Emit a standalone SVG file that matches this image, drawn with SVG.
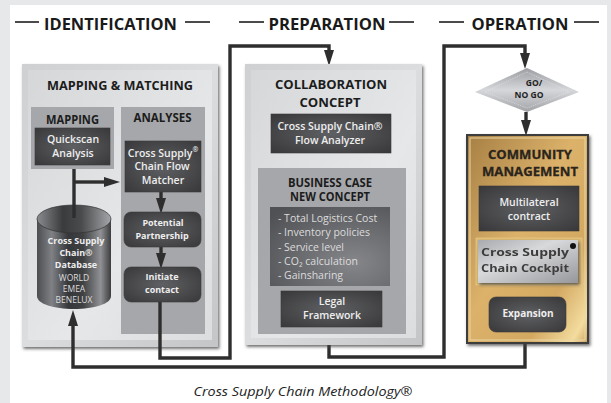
<svg xmlns="http://www.w3.org/2000/svg" width="611" height="403" viewBox="0 0 611 403">
<style>
text{font-family:"Open Sans","Noto Sans","Liberation Sans",sans-serif;text-anchor:middle}
.ph{font-size:15.500px;font-weight:700;fill:#1a1a1a}
.h{font-size:13px;font-weight:700;fill:#1c1c1c}
.sh{font-size:11.500px;font-weight:700;fill:#1c1c1c}
.w{font-size:10.500px;font-weight:600;fill:#eee}
.s{font-size:9px;font-weight:700;fill:#eee}
.l{font-size:10.500px;fill:#dcdcdc;text-anchor:start}
.rule{stroke:#111;stroke-width:1.7;fill:none}
.c{stroke:#2e2e2e;stroke-width:3.400;fill:none}
.panel{fill:url(#pg);filter:url(#sd)}
.mid{fill:#a6a7aa}
.dk{fill:url(#dg);stroke:#3a3a3a;stroke-width:.6}
</style>
<defs>
<linearGradient id="pg" x1="0" y1="0" x2="1" y2="1"><stop offset="0" stop-color="#cfd0d2"/><stop offset=".5" stop-color="#dcdddf"/><stop offset="1" stop-color="#c4c5c7"/></linearGradient>
<linearGradient id="pi" x1="0" y1="0" x2="1" y2="1"><stop offset="0" stop-color="#d6d7d9"/><stop offset=".6" stop-color="#e6e7e9"/><stop offset="1" stop-color="#dcdddf"/></linearGradient>
<radialGradient id="dg" cx=".5" cy=".5" r=".7"><stop offset="0" stop-color="#5f6063"/><stop offset="1" stop-color="#38383a"/></radialGradient>
<radialGradient id="lg" cx=".7" cy=".7" r=".9"><stop offset="0" stop-color="#85868a"/><stop offset="1" stop-color="#505154"/></radialGradient>
<linearGradient id="cy" x1="0" x2="1" y1="0" y2="0"><stop offset="0" stop-color="#4c4d50"/><stop offset=".2" stop-color="#808185"/><stop offset=".42" stop-color="#36373a"/><stop offset=".62" stop-color="#3f4042"/><stop offset=".86" stop-color="#909194"/><stop offset="1" stop-color="#3c3c3e"/></linearGradient>
<linearGradient id="cyt" x1="0" x2="1" y1="0" y2="0"><stop offset="0" stop-color="#8a8b8e"/><stop offset=".35" stop-color="#3a3b3d"/><stop offset=".6" stop-color="#4a4b4d"/><stop offset="1" stop-color="#a5a6a9"/></linearGradient>
<linearGradient id="dm" x1="0" x2="0" y1="0" y2="1"><stop offset="0" stop-color="#9c9da1"/><stop offset=".5" stop-color="#d6d7da"/><stop offset="1" stop-color="#a2a3a7"/></linearGradient>
<linearGradient id="gold" x1="0" y1="0" x2="1" y2="1"><stop offset="0" stop-color="#a67f44"/><stop offset=".45" stop-color="#dcb26a"/><stop offset=".75" stop-color="#d3a962"/><stop offset=".93" stop-color="#f3dc9e"/><stop offset="1" stop-color="#c9a05c"/></linearGradient>
<linearGradient id="steel" x1="0" y1="0" x2="1" y2="1"><stop offset="0" stop-color="#a9aaad"/><stop offset=".4" stop-color="#d8d9db"/><stop offset="1" stop-color="#96979a"/></linearGradient>
<filter id="sd" x="-10%" y="-10%" width="125%" height="125%"><feDropShadow dx="1.500" dy="2" stdDeviation="1.500" flood-color="#444" flood-opacity=".75"/></filter>
<filter id="bl" x="-10%" y="-30%" width="120%" height="160%"><feGaussianBlur stdDeviation=".7"/></filter>
<marker id="a" markerUnits="userSpaceOnUse" markerWidth="16" markerHeight="12" refX="2" refY="6" orient="auto"><path d="M0 1 16 6 0 11Z" fill="#2e2e2e"/></marker>
</defs>
<rect width="611" height="403" fill="#e7e8e9"/>
<rect x="10" y="5" width="597" height="398" fill="#fff"/>

<g id="phase-identification">
<path class="rule" d="M15 22H39M185 22H210"/><text class="ph" x="110.500" y="30" textLength="133" lengthAdjust="spacingAndGlyphs">IDENTIFICATION</text>
</g>
<g id="phase-preparation">
<path class="rule" d="M239 22H264M389 22H414"/><text class="ph" x="327" y="30" textLength="117" lengthAdjust="spacingAndGlyphs">PREPARATION</text>
</g>
<g id="phase-operation">
<path class="rule" d="M439 22H464M574 22H599"/><text class="ph" x="520" y="30" textLength="97" lengthAdjust="spacingAndGlyphs">OPERATION</text>
</g>

<g id="mapping-matching">
<rect class="panel" x="22" y="64" width="196" height="283"/>
<rect x="28" y="70" width="184" height="270" fill="url(#pi)"/>
<text class="h" x="120" y="90" textLength="146" lengthAdjust="spacingAndGlyphs">MAPPING &amp; MATCHING</text>
</g>
<g id="mapping">
<rect class="mid" x="31" y="107" width="83" height="62"/>
<text class="sh" x="72.500" y="124" textLength="53" lengthAdjust="spacingAndGlyphs">MAPPING</text>
</g>
<g id="quickscan">
<rect class="dk" x="35" y="128" width="75" height="37"/>
<text class="w" x="73" y="143">Quickscan</text><text class="w" x="73" y="157">Analysis</text>
</g>
<g id="analyses">
<rect class="mid" x="121" y="107" width="84" height="227"/>
<text class="sh" x="162.500" y="122" textLength="58" lengthAdjust="spacingAndGlyphs">ANALYSES</text>
</g>

<g id="connectors">
<path class="c" d="M74 169V218"/>
<path class="c" d="M74 182H106" marker-end="url(#a)"/>
<path class="c" d="M161 192V200" marker-end="url(#a)"/>
<path class="c" d="M161 247V255" marker-end="url(#a)"/>
<path class="c" d="M160 302V358H230V46H329V52" marker-end="url(#a)"/>
<path class="c" d="M329 150V159" marker-end="url(#a)"/>
<path class="c" d="M329 345V357H444V46H525V55" marker-end="url(#a)"/>
<path class="c" d="M526 112V122" marker-end="url(#a)"/>
<path class="c" d="M525 343V367H73V324" marker-end="url(#a)"/>
</g>

<g id="flow-matcher">
<rect class="dk" x="125" y="141" width="76" height="51"/>
<text class="w" x="163" y="157">Cross Supply<tspan dy="-5" style="font-size:7px">®</tspan></text>
<text class="w" x="162" y="170">Chain Flow</text><text class="w" x="163" y="184">Matcher</text>
</g>
<g id="potential-partnership">
<rect class="dk" x="124" y="212" width="77" height="35" rx="7"/>
<text class="s" x="163" y="226">Potential</text><text class="s" x="162" y="239">Partnership</text>
</g>
<g id="initiate-contact">
<rect class="dk" x="124" y="267" width="77" height="35" rx="7"/>
<text class="s" x="162" y="280">Initiate</text><text class="s" x="162" y="293">contact</text>
</g>
<g id="database">
<path d="M37 219V296C37 304 54 309 74 309S111 304 111 296V219Z" fill="url(#cy)"/>
<ellipse cx="74" cy="219" rx="37" ry="14" fill="url(#cyt)" stroke="#333" stroke-width=".7"/>
<path class="c" d="M74 205V218"/>
<text class="s" x="76" y="244">Cross Supply</text>
<text class="s" x="76" y="256">Chain®</text>
<text class="s" x="76" y="268">Database</text>
<text x="74" y="281" style="font-size:8.500px;fill:#ddd">WORLD</text>
<text x="74" y="292" style="font-size:8.500px;fill:#ddd">EMEA</text>
<text x="74" y="303" style="font-size:8.500px;fill:#ddd">BENELUX</text>
</g>

<g id="collaboration-concept">
<rect class="panel" x="245" y="64" width="177" height="281"/>
<rect x="251" y="70" width="165" height="268" fill="url(#pi)"/>
<text x="331" y="89" textLength="112" lengthAdjust="spacingAndGlyphs" style="font-size:12.500px;font-weight:700;fill:#1c1c1c">COLLABORATION</text>
<text x="330" y="106.500" textLength="61" lengthAdjust="spacingAndGlyphs" style="font-size:12.500px;font-weight:700;fill:#1c1c1c">CONCEPT</text>
</g>
<g id="flow-analyzer">
<rect class="dk" x="271" y="114" width="120" height="39"/>
<text class="w" x="330" y="130">Cross Supply Chain®</text><text class="w" x="330" y="144">Flow Analyzer</text>
</g>
<g id="business-case">
<rect class="mid" x="258" y="168" width="148" height="166"/>
<text class="sh" x="330" y="187" textLength="84" lengthAdjust="spacingAndGlyphs">BUSINESS CASE</text>
<text class="sh" x="330" y="201" textLength="80" lengthAdjust="spacingAndGlyphs">NEW CONCEPT</text>
</g>
<g id="cost-list">
<rect x="270" y="207" width="120" height="79" fill="url(#lg)"/>
<text class="l" x="278" y="222">- Total Logistics Cost</text>
<text class="l" x="278" y="236">- Inventory policies</text>
<text class="l" x="278" y="251">- Service level</text>
<text class="l" x="278" y="265">- CO₂ calculation</text>
<text class="l" x="278" y="279">- Gainsharing</text>
</g>
<g id="legal-framework">
<rect class="dk" x="281" y="291" width="101" height="36"/>
<text class="w" x="332" y="305">Legal</text><text class="w" x="332" y="319">Framework</text>
</g>

<g id="go-no-go">
<path d="M527 68 579 92 527 112 475 92Z" fill="url(#dm)"/>
<path d="M527 72 569 92 527 108 485 92Z" fill="none" stroke="#e8e8ea" stroke-width=".6" stroke-dasharray="1 1"/>
<text x="534" y="86" style="font-size:8.500px;font-weight:700;fill:#222">GO/</text>
<text x="529" y="98" style="font-size:8.500px;font-weight:700;fill:#222">NO GO</text>
</g>
<g id="community-management">
<rect x="467" y="135" width="121" height="208" fill="url(#gold)" stroke="#3c3c3c" stroke-width="2" filter="url(#sd)"/>
<rect x="470" y="138" width="115" height="202" fill="none" stroke="#e9d6a6" stroke-width="1"/>
<text x="530" y="159" textLength="84" lengthAdjust="spacingAndGlyphs" style="font-size:13px;font-weight:700;fill:#2a241c;stroke:#2a241c;stroke-width:.3">COMMUNITY</text>
<text x="530" y="176" textLength="96" lengthAdjust="spacingAndGlyphs" style="font-size:13px;font-weight:700;fill:#2a241c;stroke:#2a241c;stroke-width:.3">MANAGEMENT</text>
</g>
<g id="multilateral-contract">
<rect class="dk" x="479" y="186" width="100" height="45"/>
<text class="w" x="529" y="206">Multilateral</text><text class="w" x="529" y="220">contract</text>
</g>
<g id="cockpit">
<rect x="476" y="238" width="106" height="47" fill="#dcb871" stroke="#e9cf95" stroke-width=".6"/>
<rect x="478" y="240" width="100" height="43" fill="url(#steel)" filter="url(#sd)"/>
<circle cx="573" cy="246" r="3" fill="#111"/>
<text x="525" y="256" textLength="88" lengthAdjust="spacingAndGlyphs" filter="url(#bl)" style="font-size:11px;font-weight:700;fill:#3c3c3c">Cross  Supply</text>
<text x="525" y="272" textLength="88" lengthAdjust="spacingAndGlyphs" filter="url(#bl)" style="font-size:11px;font-weight:700;fill:#3c3c3c">Chain Cockpit</text>
</g>
<g id="expansion">
<rect class="dk" x="489" y="297" width="77" height="35" rx="7"/>
<text class="s" x="528" y="317" style="font-size:10px">Expansion</text>
</g>
<text id="caption" x="303" y="396" style="font-size:13.500px;font-style:italic;fill:#222" textLength="219" lengthAdjust="spacingAndGlyphs">Cross Supply Chain Methodology®</text>
</svg>
